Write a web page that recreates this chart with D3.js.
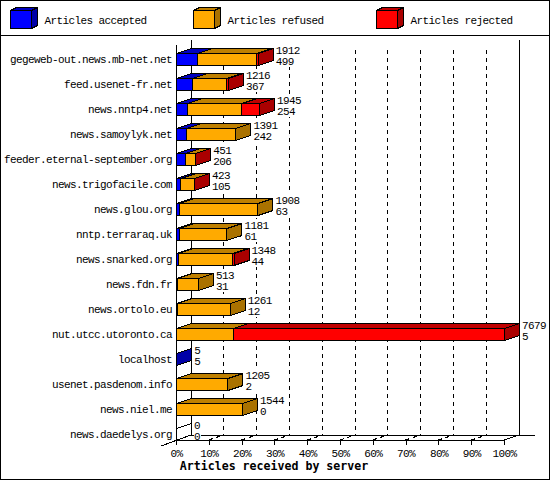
<!DOCTYPE html>
<html><head><meta charset="utf-8">
<script src="https://cdn.jsdelivr.net/npm/d3@7/dist/d3.min.js"></script>
<style>html,body{margin:0;padding:0;background:#fff}svg{display:block}text{font-family:"Liberation Mono",monospace;font-size:11px;letter-spacing:-0.6px;fill:#000}</style>
</head><body><svg id="c" width="550" height="480"></svg>
<script>
const categories=["gegeweb-out.news.mb-net.net","feed.usenet-fr.net","news.nntp4.net","news.samoylyk.net","feeder.eternal-september.org","news.trigofacile.com","news.glou.org","nntp.terraraq.uk","news.snarked.org","news.fdn.fr","news.ortolo.eu","nut.utcc.utoronto.ca","localhost","usenet.pasdenom.info","news.niel.me","news.daedelys.org"];
const accepted=[499,367,254,242,206,105,63,61,44,31,12,5,5,2,0,0];
const refused=[1372,800,1279,1149,233,312,1845,1120,1278,482,1249,1333,0,1203,1544,0];
const rejected=[41,49,412,0,12,6,0,0,26,0,0,6341,0,0,0,0];
const totals=[1912,1216,1945,1391,451,423,1908,1181,1348,513,1261,7679,5,1205,1544,0];
const seriesNames=["Articles accepted","Articles refused","Articles rejected"];
const seriesValues=[accepted,refused,rejected];
const colors=[["#0000ff","#0000c0","#0000a8"],["#ffaa00","#bf8000","#aa7200"],["#ff0000","#c00000","#aa0000"]];
const tickLabels=[0,10,20,30,40,50,60,70,80,90,100];
const maxTotal=7679;

const dx=15,dy=-5,barH=12;
const svg=d3.select("#c").attr("shape-rendering","crispEdges");
const x=d3.scaleLinear().domain([0,100]).range([176,504]);
const y=d3.scaleBand().domain(categories).range([45,445]);
const pct=v=>v/maxTotal*100;
const floorY=440;

svg.append("rect").attr("x",.5).attr("y",.5).attr("width",549).attr("height",479).attr("fill","#fff").attr("stroke","#000");
svg.append("line").attr("x1",0).attr("x2",550).attr("y1",35.5).attr("y2",35.5).attr("stroke","#000");

seriesNames.forEach((n,i)=>{
  const g=svg.append("g").attr("transform",`translate(${10.5+183*i},10.5)`);
  const c=colors[i];
  g.append("path").attr("d","M0 0L6 -3H27V15L21 18V0Z").attr("fill",c[2]).attr("stroke","#000");
  g.append("path").attr("d","M0 0L6 -3H27L21 0Z").attr("fill",c[1]).attr("stroke","#000");
  g.append("rect").attr("width",21).attr("height",18).attr("fill",c[0]).attr("stroke","#000");
  svg.append("text").attr("x",44.5+183*i).attr("y",24).text(n);
});

const wall=svg.append("g");
const backTop=40;
tickLabels.slice(1,-1).forEach(t=>{
  wall.append("line").attr("x1",Math.floor(x(t)+dx)+.5).attr("x2",Math.floor(x(t)+dx)+.5).attr("y1",backTop+10).attr("y2",floorY+dy)
    .attr("stroke","#000").attr("stroke-dasharray","4,4");
  wall.append("line").attr("x1",x(t)).attr("x2",x(t)+dx).attr("y1",floorY).attr("y2",floorY+dy)
    .attr("stroke","#000").attr("stroke-width",1.2).attr("stroke-dasharray","4,3.5");
});
wall.append("line").attr("x1",x(0)+dx+.5).attr("x2",x(0)+dx+.5).attr("y1",backTop).attr("y2",floorY+dy).attr("stroke","#000");
wall.append("line").attr("x1",x(100)+dx+.5).attr("x2",x(100)+dx+.5).attr("y1",backTop).attr("y2",floorY+dy).attr("stroke","#000");
wall.append("line").attr("x1",x(0)+dx).attr("x2",535).attr("y1",floorY+dy+.5).attr("y2",floorY+dy+.5).attr("stroke","#000");
wall.append("line").attr("x1",x(100)).attr("x2",x(100)+dx).attr("y1",floorY).attr("y2",floorY+dy).attr("stroke","#000");
wall.append("line").attr("x1",161).attr("x2",x(0)+dx).attr("y1",446).attr("y2",floorY+dy).attr("stroke","#000");

const lab=svg.append("g");
categories.forEach((c,i)=>{
  const yb=y(c)+8, xe=x(pct(totals[i]))+dx+3;
  const w=6*Math.max(String(totals[i]).length,String(accepted[i]).length);
  lab.append("rect").attr("x",Math.round(xe)).attr("y",yb-9).attr("width",w+1).attr("height",23).attr("fill","#fff");
});

svg.append("line").attr("x1",x(0)+.5).attr("x2",x(0)+.5).attr("y1",45).attr("y2",floorY).attr("stroke","#000");
const ax=d3.axisBottom(x).tickValues(tickLabels).tickFormat(d=>d+"%").tickSize(5);
const axG=svg.append("g").attr("transform",`translate(0,${floorY})`).call(ax);
axG.select(".domain").attr("d",`M${x(0)},0.5H${x(100)}`).attr("stroke","#000");
axG.selectAll("text").attr("y",16.5).attr("dy",0).style("font-family",'"Liberation Mono",monospace').style("font-size","11px");
axG.selectAll(".tick line").attr("stroke","#000");
axG.attr("font-family",null).attr("font-size",null);

categories.forEach((c,i)=>{
  const yb=y(c)+8;
  let cum=0;
  seriesValues.forEach((vals,s)=>{
    const v=vals[i];
    if(v===0)return;
    const x0=x(pct(cum)),x1=x(pct(cum+v));cum+=v;
    const col=colors[s];
    const g=svg.append("g").attr("stroke","#000");
    g.append("path").attr("d",`M${x0+.5} ${yb+.5}L${x0+dx+.5} ${yb+dy+.5}H${x1+dx+.5}L${x1+.5} ${yb+.5}Z`).attr("fill",col[1]);
    g.append("path").attr("d",`M${x1+.5} ${yb+.5}L${x1+dx+.5} ${yb+dy+.5}V${yb+barH+dy+.5}L${x1+.5} ${yb+barH+.5}Z`).attr("fill",col[2]);
    g.append("rect").attr("x",x0+.5).attr("y",yb+.5).attr("width",Math.max(x1-x0,0)).attr("height",barH).attr("fill",col[0]);
  });
  if(totals[i]===0){
    svg.append("path").attr("d",`M${x(0)+.5} ${yb+.5}L${x(0)+dx+.5} ${yb+dy+.5}`).attr("stroke","#000");
  }
  svg.append("text").attr("x",172).attr("y",yb+10).attr("text-anchor","end").text(c);
  const xe=x(pct(totals[i]))+dx+3;
  svg.append("text").attr("x",xe).attr("y",yb+1).text(totals[i]);
  svg.append("text").attr("x",xe).attr("y",yb+12).text(accepted[i]);
});

svg.append("text").attr("x",274).attr("y",470).attr("text-anchor","middle").style("font-family",'"DejaVu Sans Mono",monospace').style("font-weight","bold").style("font-size","11.6px").style("letter-spacing","0").text("Articles received by server");
</script></body></html>
